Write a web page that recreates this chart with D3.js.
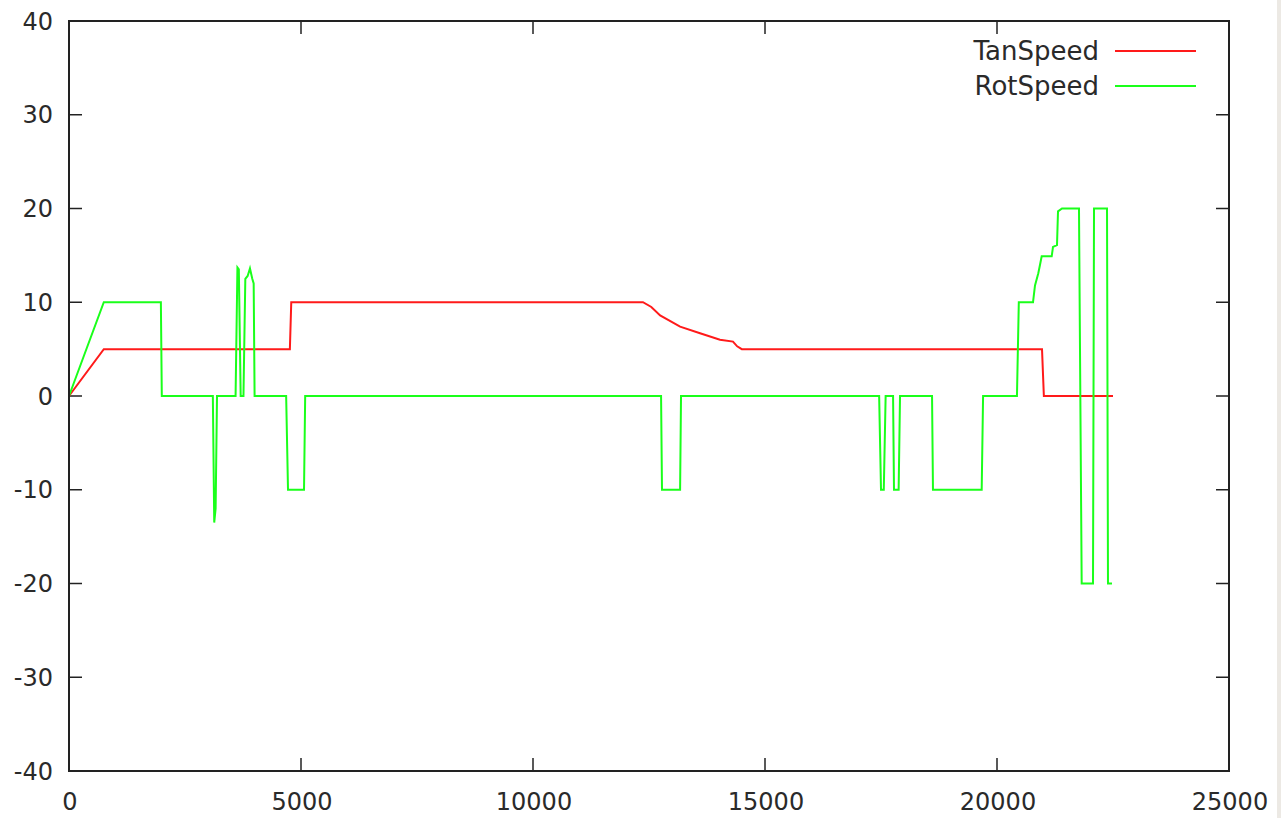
<!DOCTYPE html>
<html>
<head>
    <script src="https://cdn.jsdelivr.net/npm/d3@7"></script>
    <style>
        body { margin: 0; background: #fff; }
        .tick-label { font-family: "DejaVu Sans", sans-serif; font-size: 24px; fill: #2a2a2a; }
        .legend-label { font-family: "DejaVu Sans", sans-serif; font-size: 26px; fill: #2a2a2a; }
    </style>
</head>
<body>
    <svg width="1281" height="818"></svg>

    <script>
        // TanSpeed series, [x, y]
        const tanX = [0, 750, 4760, 4790, 12330, 12370, 12550, 12740, 13170, 13600, 14030, 14310, 14400, 14500, 20970, 21010, 22500];
        const tanY = [0, 5, 5, 10, 10, 10, 9.5, 8.6, 7.4, 6.7, 6.0, 5.8, 5.3, 5, 5, 0, 0];

        // RotSpeed series, [x, y]
        const rotX = [0, 750, 1980, 2000, 3100, 3130, 3160, 3190, 3590, 3630, 3660, 3700, 3760, 3800, 3850, 3900, 3950, 3980, 4000,
            4680, 4720, 5065, 5090, 12760, 12780, 13170, 13190, 17460, 17500, 17560, 17600, 17760, 17780, 17880, 17910,
            18600, 18620, 19670, 19700, 20430, 20470, 20776, 20819, 20890, 20927, 20963, 21179, 21207, 21293, 21315, 21401,
            21767, 21825, 22069, 22091, 22371, 22392, 22478];
        const rotY = [0, 10, 10, 0, 0, -13.5, -12, 0, 0, 13.7, 13.5, 0, 0, 12.5, 12.8, 13.6, 12.5, 12, 0,
            0, -10, -10, 0, 0, -10, -10, 0, 0, -10, -10, 0, 0, -10, -10, 0,
            0, -10, -10, 0, 0, 10, 10, 11.8, 13.1, 14, 14.9, 14.9, 15.9, 16.1, 19.7, 20,
            20, -20, -20, 20, 20, -20, -20];

        const xTicks = [0, 5000, 10000, 15000, 20000, 25000];
        const yTicks = [-40, -30, -20, -10, 0, 10, 20, 30, 40];

        const seriesNames = ["TanSpeed", "RotSpeed"];
        const seriesColors = ["#ff1a1a", "#1aff1a"];

        const svg = d3.select("svg");
        const plotLeft = 69, plotRight = 1229, plotTop = 21, plotBottom = 771;

        // grey strip on the right edge
        svg.append("rect").attr("x", 1277).attr("y", 0).attr("width", 4).attr("height", 818).attr("fill", "#ece9e4");

        const x = d3.scaleLinear().domain([0, 25000]).range([plotLeft, plotRight]);
        const y = d3.scaleLinear().domain([-40, 40]).range([plotBottom, plotTop]);

        const tickLen = 13;
        const g = svg.append("g");

        // ticks (mirrored on both sides)
        yTicks.forEach(t => {
            g.append("line").attr("x1", plotLeft).attr("x2", plotLeft + tickLen).attr("y1", y(t)).attr("y2", y(t)).attr("stroke", "#222").attr("stroke-width", 1.5);
            g.append("line").attr("x1", plotRight).attr("x2", plotRight - tickLen).attr("y1", y(t)).attr("y2", y(t)).attr("stroke", "#222").attr("stroke-width", 1.5);
            g.append("text").attr("class", "tick-label").attr("x", 53).attr("y", y(t)).attr("dy", "0.36em")
                .attr("text-anchor", "end").text(t);
        });
        xTicks.forEach(t => {
            g.append("line").attr("x1", x(t)).attr("x2", x(t)).attr("y1", plotBottom).attr("y2", plotBottom - tickLen).attr("stroke", "#222").attr("stroke-width", 1.5);
            g.append("line").attr("x1", x(t)).attr("x2", x(t)).attr("y1", plotTop).attr("y2", plotTop + tickLen).attr("stroke", "#222").attr("stroke-width", 1.5);
            g.append("text").attr("class", "tick-label").attr("x", x(t) + 1).attr("y", 810)
                .attr("text-anchor", "middle").text(t);
        });

        const line = d3.line().x(d => x(d[0])).y(d => y(d[1]));

        const tanData = d3.zip(tanX, tanY);
        const rotData = d3.zip(rotX, rotY);

        [tanData, rotData].forEach((data, i) => {
            svg.append("path").datum(data).attr("d", line)
                .attr("fill", "none").attr("stroke", seriesColors[i]).attr("stroke-width", 2)
                .attr("stroke-linejoin", "miter");
        });

        // border
        svg.append("rect").attr("x", plotLeft).attr("y", plotTop).attr("width", plotRight - plotLeft).attr("height", plotBottom - plotTop)
            .attr("fill", "none").attr("stroke", "#222").attr("stroke-width", 2);

        // legend
        const legend = svg.append("g");
        seriesNames.forEach((name, i) => {
            const ly = 51 + i * 35;
            legend.append("text").attr("class", "legend-label").attr("x", 1099).attr("y", ly).attr("dy", "0.36em")
                .attr("text-anchor", "end").text(name);
            legend.append("line").attr("x1", 1115).attr("x2", 1196).attr("y1", ly).attr("y2", ly)
                .attr("stroke", seriesColors[i]).attr("stroke-width", 2);
        });
    </script>
</body>
</html>
